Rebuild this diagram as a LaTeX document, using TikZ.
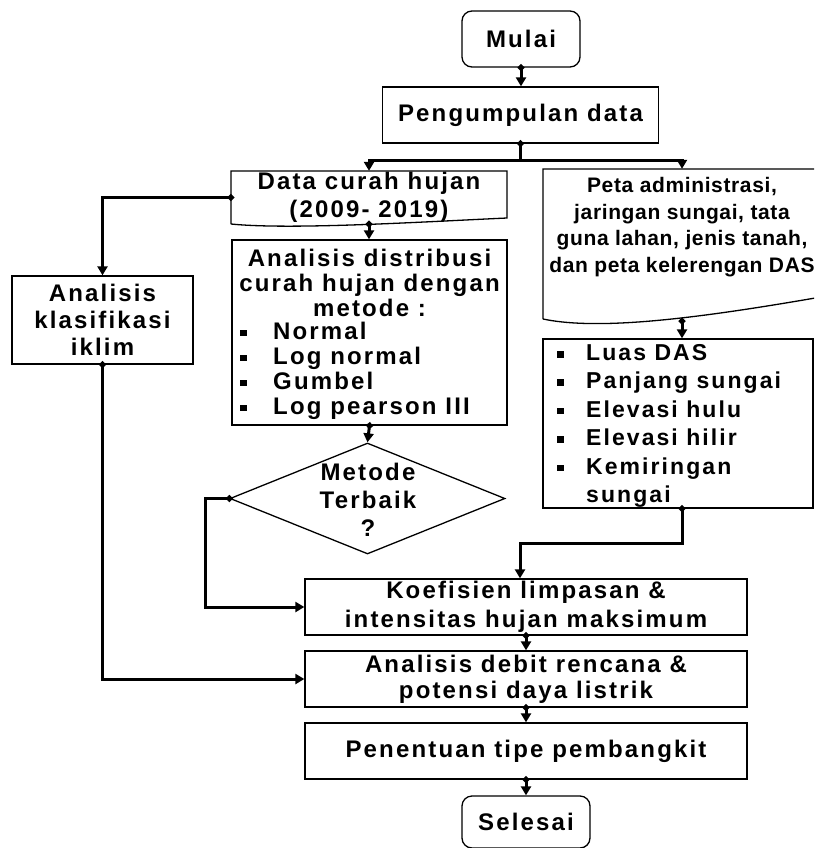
\documentclass[tikz,border=0pt]{standalone}
\usepackage{fontspec}
\setmainfont{Liberation Sans}[LetterSpace=9]
\newfontfamily\petafont{Liberation Sans}[LetterSpace=3]
\usetikzlibrary{arrows.meta,shapes.geometric}
\newcommand\blt[1]{\makebox[#1][l]{\rule[3pt]{6.5pt}{6.5pt}}}
\begin{document}
\begin{tikzpicture}[x=1pt,y=-1pt,
  boxline/.style={draw=black, line width=1.3pt},
  box/.style={boxline, rectangle, inner sep=0pt, align=center},
  txt/.style={font=\bfseries\fontsize{24}{25}\selectfont, inner sep=0pt, align=center},
  conn/.style={line width=3pt, {Diamond[length=7.5pt,width=7.5pt]}-{Triangle[length=9pt,width=10pt]}, shorten <=-3.75pt},
  feed/.style={line width=3pt, -{Triangle[length=9pt,width=10pt]}}
]
\useasboundingbox (0,0) rectangle (814,848);
\clip (0,0) rectangle (814,848);

% start / data collection
\node[box, txt, rounded corners=10pt, minimum width=118pt, minimum height=56pt] (mulai) at (521,39) {Mulai};
\node[box, txt, minimum width=276pt, minimum height=56pt] (peng) at (520.5,115) {Pengumpulan data};

% rainfall data (document shape)
\node[txt, minimum width=276pt, minimum height=53pt, font=\bfseries\fontsize{24}{28}\selectfont] (dch) at (369,197.5) {Data curah hujan\\(2009- 2019)};
\draw[boxline] (231,224) -- (231,171) -- (507,171) -- (507,218) .. controls (420,222) and (290,230) .. (231,224);

% distribution analysis
\node[box, minimum width=275pt, minimum height=185pt] (ad) at (369.5,332.5) {};
\node[txt] (adh) at (369.5,283) {Analisis distribusi\\curah hujan dengan\\metode :};
\node[txt, align=left, anchor=west] (adl) at (240,370.5) {\blt{33pt}Normal\\\blt{33pt}Log normal\\\blt{33pt}Gumbel\\\blt{33pt}Log pearson III};

% climate classification
\node[box, minimum width=181pt, minimum height=88pt, txt, font=\bfseries\fontsize{24}{27}\selectfont] (ak) at (102.5,320) {Analisis\\klasifikasi\\iklim};

% decision
\node[diamond, boxline, minimum width=275pt, minimum height=111pt, inner sep=0pt] (dm) at (367.5,498.5) {};
\node[txt, font=\bfseries\fontsize{24}{28}\selectfont] (dmt) at (368,500) {Metode\\Terbaik\\?};

% maps (document shape)
\node[minimum width=278pt, minimum height=152pt, inner sep=0pt] (pt) at (682,245) {};
\draw[boxline] (543,319) -- (543,169) -- (821,169) -- (821,297) .. controls (700,318) and (600,331) .. (543,319);
\node[inner sep=0pt, align=center, font=\petafont\bfseries\fontsize{21}{26.7}\selectfont] (ptt) at (682,227) {Peta administrasi,\\jaringan sungai, tata\\guna lahan, jenis tanah,\\dan peta kelerengan DAS};

% watershed parameters
\node[box, minimum width=270pt, minimum height=169pt] (lb) at (678,423.5) {};
\node[txt, align=left, anchor=west, font=\bfseries\fontsize{23}{28.4}\selectfont] (lbl) at (557,426) {\blt{29pt}Luas DAS\\\blt{29pt}Panjang sungai\\\blt{29pt}Elevasi hulu\\\blt{29pt}Elevasi hilir\\\blt{29pt}Kemiringan\\\hspace*{29pt}sungai};

% lower chain
\node[box, txt, minimum width=442pt, minimum height=56pt, font=\bfseries\fontsize{24}{29}\selectfont] (kl) at (526,607) {Koefisien limpasan \&\\intensitas hujan maksimum};
\node[box, txt, minimum width=442pt, minimum height=56pt, font=\bfseries\fontsize{24}{26}\selectfont] (deb) at (526,679) {Analisis debit rencana \&\\potensi daya listrik};
\node[box, txt, minimum width=442pt, minimum height=56pt] (pen) at (526,751) {Penentuan tipe pembangkit};
\node[box, txt, rounded corners=10pt, minimum width=128pt, minimum height=52pt] (sel) at (526,822) {Selesai};

% connectors
\draw[conn] (mulai.south) -- (mulai.south |- peng.north);
\coordinate (split) at (520.5,160);
\draw[conn] (peng.south) -- (split) -| (dch.north);
\draw[feed] (split) -| (pt.north);
\draw[conn] (dch.south) -- (dch.south |- ad.north);
\draw[conn] (dch.west) -| (ak.north);
\draw[conn] (ad.south) -- (dm.north);
\draw[conn] (dm.west) -- (205,498.5) |- (kl.west);
\draw[conn] (ak.south) |- (deb.west);
\draw[conn] (pt.south) -- (pt.south |- lb.north);
\draw[conn] (pt.south |- lb.south) -- (682,543) -| ([xshift=-6pt]kl.north);
\draw[conn] (kl.south) -- (deb.north);
\draw[conn] (deb.south) -- (pen.north);
\draw[conn] (pen.south) -- (sel.north);
\end{tikzpicture}
\end{document}
